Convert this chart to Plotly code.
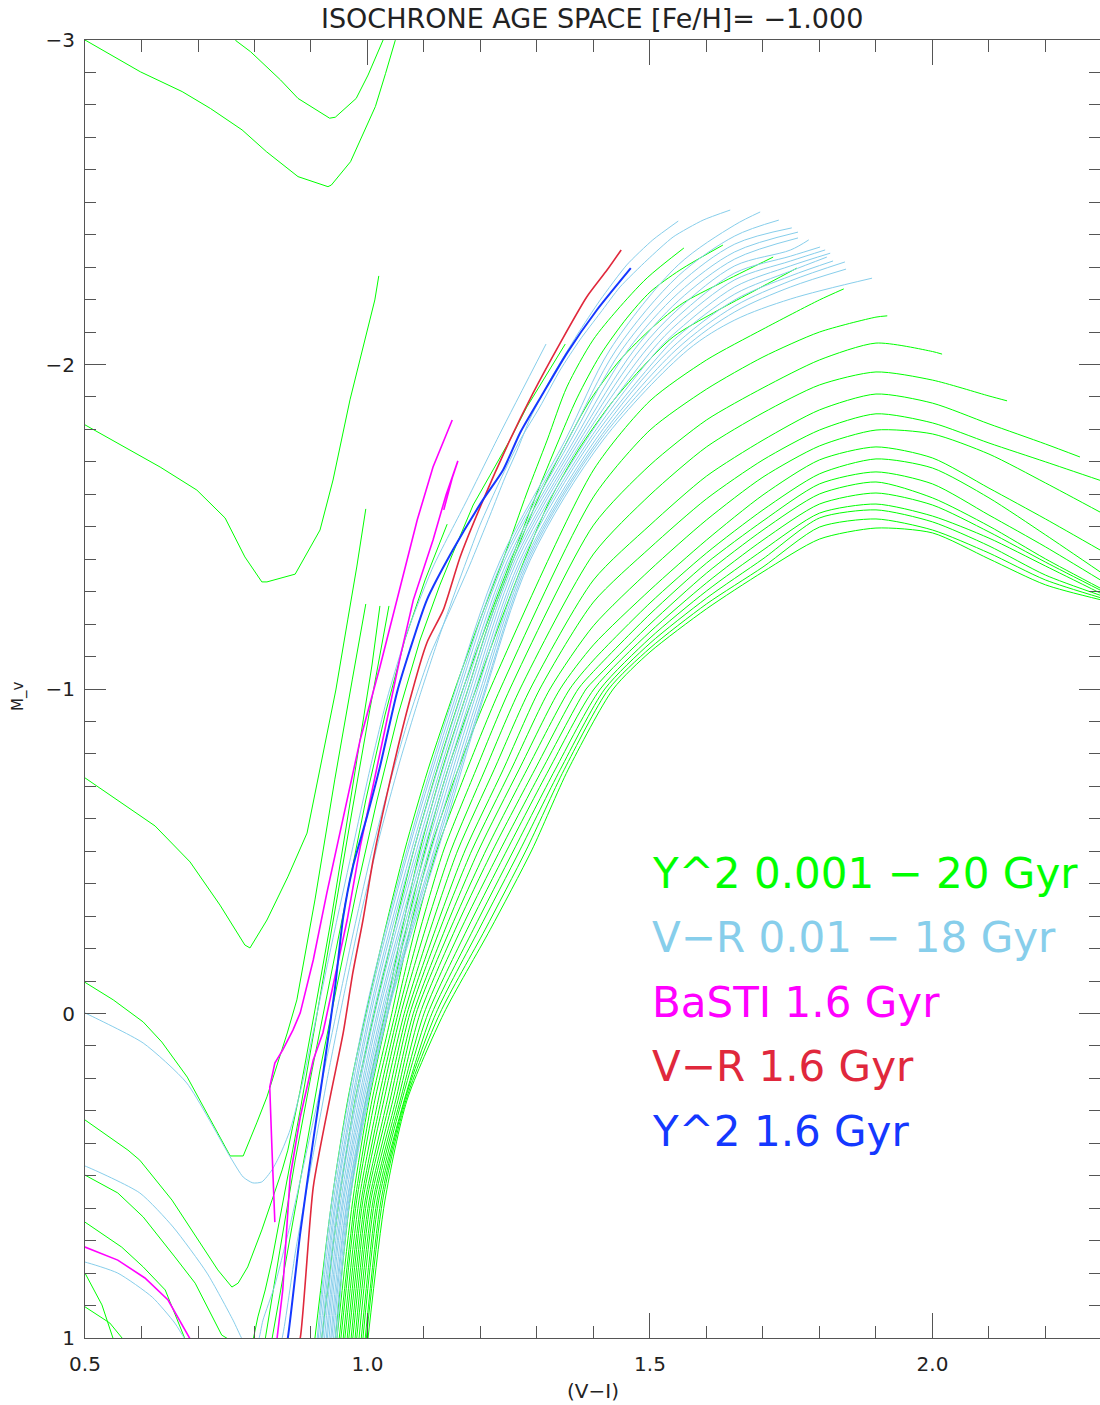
import plotly.graph_objects as go

FONT = "DejaVu Sans, sans-serif"
GREEN = "#00ff00"
SKY = "#87ceeb"
MAGENTA = "#ff00ff"
RED = "#e0283c"
BLUE = "#1438ff"

# ---------------- Y^2 (green) young isochrones: (V-I, M_V) ----------------
Y2_YOUNG_VI = [
    [0.47, 0.502, 0.598, 0.672, 0.722, 0.778, 0.821, 0.877, 0.930, 0.936, 0.970, 1.014, 1.032, 1.049, 1.06],
    [0.74, 0.767, 0.793, 0.821, 0.846, 0.877, 0.933, 0.943, 0.980, 1.001, 1.026, 1.035],
    [0.48, 0.5, 0.633, 0.698, 0.748, 0.783, 0.813, 0.822, 0.872, 0.916, 0.939, 0.969, 1.013, 1.020],
    [0.48, 0.5, 0.624, 0.686, 0.739, 0.783, 0.792, 0.822, 0.859, 0.893, 0.928, 0.944, 0.965, 0.981, 0.997],
    [0.48, 0.5, 0.550, 0.603, 0.636, 0.681, 0.757, 0.780, 0.804, 0.822, 0.858, 0.875, 0.907, 0.942, 0.973, 0.997],
    [0.48, 0.5, 0.576, 0.597, 0.654, 0.735, 0.760, 0.771, 0.788, 0.813, 0.831, 0.849, 0.859, 0.881, 0.907, 0.934, 0.960, 0.987, 1.008, 1.022],
    [0.48, 0.5, 0.558, 0.603, 0.659, 0.695, 0.742, 0.760, 0.778, 0.797, 0.806, 0.819, 0.831, 0.854, 0.881, 0.912, 0.942, 0.973, 1.004, 1.038],
    [0.48, 0.5, 0.565, 0.603, 0.642, 0.677, 0.74, 0.819, 0.845, 0.872, 0.902, 0.934, 0.965, 0.997, 1.031, 1.066, 1.102, 1.141],
    [0.48, 0.5, 0.530, 0.550, 0.70, 0.831, 0.859, 0.888, 0.916, 0.948, 0.981, 1.017, 1.054, 1.093, 1.128, 1.151, 1.187, 1.217, 1.252, 1.282, 1.318, 1.350],
    [0.48, 0.5, 0.544, 0.567, 0.58],
]
Y2_YOUNG_MV = [
    [-3.02, -2.998, -2.902, -2.841, -2.789, -2.723, -2.656, -2.579, -2.548, -2.553, -2.625, -2.795, -2.897, -2.998, -3.04],
    [-3.06, -2.998, -2.964, -2.918, -2.877, -2.820, -2.759, -2.762, -2.820, -2.892, -2.998, -3.03],
    [-1.82, -1.814, -1.684, -1.613, -1.527, -1.407, -1.330, -1.330, -1.354, -1.490, -1.644, -1.891, -2.199, -2.273],
    [-0.75, -0.726, -0.578, -0.467, -0.334, -0.211, -0.202, -0.288, -0.421, -0.556, -0.864, -0.997, -1.213, -1.376, -1.555],
    [-0.12, -0.096, -0.042, 0.026, 0.088, 0.196, 0.439, 0.439, 0.337, 0.257, 0.060, -0.042, -0.350, -0.720, -1.028, -1.262],
    [0.30, 0.328, 0.421, 0.452, 0.575, 0.790, 0.843, 0.831, 0.781, 0.667, 0.575, 0.482, 0.421, 0.236, -0.011, -0.273, -0.550, -0.843, -1.074, -1.256],
    [0.47, 0.498, 0.553, 0.627, 0.750, 0.831, 0.991, 1.01, 1.02, 1.01, 0.935, 0.852, 0.760, 0.544, 0.297, -0.011, -0.319, -0.627, -0.935, -1.256],
    [0.63, 0.643, 0.720, 0.781, 0.852, 1.003, 1.12, 1.003, 0.729, 0.452, 0.174, -0.103, -0.381, -0.658, -0.920, -1.151, -1.336, -1.508],
    [0.76, 0.800, 0.898, 1.003, 1.15, 1.003, 0.729, 0.452, 0.174, -0.103, -0.381, -0.658, -0.920, -1.151, -1.320, -1.418, -1.567, -1.659, -1.767, -1.869, -1.974, -2.063],
    [0.88, 0.904, 0.954, 1.003, 1.04],
]

# ---------------- Y^2 intermediate-age isochrones (among the V-R bundle) ----------------
Y2_MID_VI = [
    [0.907, 0.937, 0.965, 0.997, 1.031, 1.066, 1.107, 1.155, 1.199, 1.243, 1.282, 1.318, 1.353, 1.399, 1.442, 1.495, 1.560],
    [0.919, 0.950, 0.978, 1.012, 1.047, 1.082, 1.123, 1.169, 1.217, 1.261, 1.300, 1.335, 1.371, 1.412, 1.459, 1.500, 1.553, 1.629],
    [0.943, 0.969, 0.997, 1.031, 1.061, 1.093, 1.132, 1.178, 1.217, 1.261, 1.305, 1.350, 1.394, 1.447, 1.505, 1.558, 1.624, 1.718],
    [0.946, 0.974, 1.003, 1.036, 1.068, 1.102, 1.142, 1.192, 1.235, 1.279, 1.323, 1.373, 1.429, 1.482, 1.541, 1.612, 1.677, 1.760],
]
Y2_MID_MV = [
    [1.0, 0.575, 0.267, 0.0, -0.258, -0.504, -0.751, -1.0, -1.213, -1.413, -1.604, -1.767, -1.931, -2.075, -2.168, -2.267, -2.359],
    [1.0, 0.575, 0.267, 0.0, -0.258, -0.504, -0.751, -1.0, -1.228, -1.428, -1.604, -1.752, -1.897, -2.029, -2.143, -2.223, -2.291, -2.368],
    [1.0, 0.575, 0.267, 0.0, -0.258, -0.504, -0.751, -1.0, -1.213, -1.413, -1.598, -1.752, -1.890, -2.014, -2.115, -2.189, -2.250, -2.331],
    [1.0, 0.575, 0.267, 0.0, -0.258, -0.504, -0.751, -1.0, -1.206, -1.403, -1.582, -1.736, -1.875, -1.983, -2.085, -2.159, -2.220, -2.297],
]

# ---------------- Y^2 old isochrones (RGB fan) ----------------
FAN_LOWER_MV = [1.0, 0.575, 0.267, 0.0, -0.258, -0.504, -0.751, -1.0]
FAN_LOWER_VI = [
    [0.950, 0.978, 1.008, 1.043, 1.075, 1.111, 1.160, 1.217],
    [0.953, 0.981, 1.013, 1.049, 1.084, 1.123, 1.176, 1.235],
    [0.957, 0.985, 1.019, 1.054, 1.093, 1.135, 1.192, 1.252],
    [0.960, 0.989, 1.024, 1.059, 1.102, 1.148, 1.208, 1.270],
    [0.964, 0.992, 1.029, 1.065, 1.111, 1.160, 1.224, 1.288],
    [0.967, 0.996, 1.035, 1.070, 1.120, 1.173, 1.240, 1.305],
    [0.971, 0.999, 1.040, 1.075, 1.128, 1.185, 1.254, 1.323],
    [0.974, 1.003, 1.045, 1.081, 1.137, 1.197, 1.268, 1.341],
    [0.978, 1.006, 1.050, 1.086, 1.146, 1.210, 1.282, 1.358],
    [0.981, 1.010, 1.054, 1.093, 1.155, 1.222, 1.296, 1.373],
    [0.985, 1.013, 1.058, 1.100, 1.165, 1.235, 1.309, 1.387],
    [0.989, 1.017, 1.061, 1.107, 1.176, 1.247, 1.321, 1.401],
    [0.992, 1.020, 1.065, 1.114, 1.187, 1.259, 1.332, 1.412],
    [0.996, 1.024, 1.066, 1.121, 1.197, 1.270, 1.341, 1.420],
    [0.998, 1.027, 1.068, 1.128, 1.208, 1.281, 1.348, 1.427],
    [1.001, 1.031, 1.070, 1.135, 1.217, 1.291, 1.355, 1.435],
]
FAN_MV_AT_VI_1P4 = [-1.675, -1.592, -1.505, -1.416, -1.336, -1.268, -1.195, -1.136, -1.089, -1.054, -1.025,
                    None, None, None, None, None]
FAN_COLS_VI = [1.5, 1.6, 1.7, 1.8, 1.9, 2.0, 2.1, 2.2, 2.3]
FAN_UPPER_MV = [
    [-1.888, -2.014, -2.109, -2.199],
    [-1.798, -1.924, -2.023, -2.100, -2.146],
    [-1.690, -1.829, -1.928, -2.014, -2.066, -2.040],
    [-1.598, -1.746, -1.851, -1.937, -1.977, -1.952, -1.903],
    [-1.505, -1.656, -1.767, -1.860, -1.909, -1.881, -1.817, -1.755],
    [-1.435, -1.586, -1.706, -1.798, -1.848, -1.820, -1.758, -1.700, -1.641],
    [-1.367, -1.521, -1.653, -1.749, -1.798, -1.786, -1.724, -1.635, -1.542],
    [-1.305, -1.459, -1.598, -1.706, -1.746, -1.712, -1.619, -1.524, -1.425],
    [-1.265, -1.419, -1.552, -1.663, -1.709, -1.681, -1.589, -1.475, -1.357],
    [-1.231, -1.388, -1.518, -1.632, -1.669, -1.632, -1.536, -1.438, -1.333],
    [-1.200, -1.357, -1.490, -1.601, -1.638, -1.589, -1.502, -1.401, -1.308],
    [-1.176, -1.327, -1.459, -1.570, -1.604, -1.567, -1.484, -1.391, -1.302],
    [-1.157, -1.302, -1.428, -1.542, -1.570, -1.533, -1.465, -1.379, -1.293],
    [-1.141, -1.280, -1.401, -1.527, -1.552, -1.515, -1.441, -1.351, -1.287],
    [-1.126, -1.262, -1.376, -1.499, -1.524, -1.490, -1.419, -1.336, -1.280],
    [-1.114, -1.247, -1.361, -1.462, -1.496, -1.481, -1.401, -1.321, -1.274],
]
FAN_END_VI = [1.843, 1.920, 2.017, 2.132, 2.261, None, None, None, None, None, None, None, None, None, None, None]
FAN_END_MV = [-2.233, -2.150, -2.032, -1.888, -1.715, None, None, None, None, None, None, None, None, None, None, None]

# ---------------- V-R (light blue) young isochrones ----------------
VR_YOUNG_VI = [
    [0.48, 0.5, 0.603, 0.680, 0.757, 0.780, 0.797, 0.813, 0.831, 0.845, 0.863, 0.886, 0.912, 0.942, 0.973, 1.004, 1.034, 1.070, 1.116, 1.176, 1.235, 1.316],
    [0.48, 0.5, 0.597, 0.656, 0.716, 0.762, 0.778, 0.792, 0.806, 0.815, 0.836, 0.863, 0.889, 0.916, 0.946, 0.974, 1.004, 1.036, 1.072, 1.111, 1.146, 1.181, 1.217, 1.243, 1.265, 1.288, 1.328, 1.371, 1.412, 1.459, 1.505, 1.550],
    [0.48, 0.5, 0.558, 0.619, 0.659, 0.677, 0.760, 0.831, 0.849, 0.873, 0.902, 0.930, 0.960, 0.990, 1.022, 1.058, 1.093, 1.128, 1.164, 1.199, 1.235, 1.270, 1.305, 1.341, 1.376, 1.412, 1.447, 1.495, 1.541, 1.594, 1.642],
]
VR_YOUNG_MV = [
    [-0.02, -0.002, 0.091, 0.214, 0.442, 0.504, 0.522, 0.519, 0.482, 0.436, 0.359, 0.205, -0.011, -0.257, -0.504, -0.750, -0.966, -1.173, -1.376, -1.582, -1.789, -2.063],
    [0.46, 0.470, 0.553, 0.658, 0.800, 0.945, 1.003, 1.037, 1.012, 0.945, 0.837, 0.652, 0.451, 0.236, -0.011, -0.242, -0.473, -0.689, -0.904, -1.105, -1.243, -1.382, -1.536, -1.650, -1.736, -1.834, -1.967, -2.091, -2.199, -2.307, -2.384, -2.442],
    [0.76, 0.766, 0.800, 0.874, 0.954, 1.003, 1.176, 1.099, 1.0, 0.729, 0.452, 0.190, -0.072, -0.319, -0.550, -0.781, -0.982, -1.167, -1.342, -1.505, -1.644, -1.767, -1.869, -1.983, -2.076, -2.159, -2.239, -2.322, -2.393, -2.445, -2.476],
]

# ---------------- V-R (light blue) dense bundle of older isochrones ----------------
BUNDLE_MV = [1.0, 0.575, 0.0, -0.505, -0.966, -1.397, -1.767, -2.045]
BUNDLE_VI = [
    [0.911, 0.937, 0.996, 1.070, 1.150, 1.235, 1.350, 1.429],
    [0.913, 0.940, 0.999, 1.073, 1.154, 1.239, 1.355, 1.440],
    [0.916, 0.943, 1.003, 1.078, 1.158, 1.243, 1.360, 1.450],
    [0.919, 0.945, 1.006, 1.082, 1.163, 1.248, 1.366, 1.461],
    [0.921, 0.948, 1.010, 1.087, 1.167, 1.252, 1.371, 1.472],
    [0.924, 0.950, 1.013, 1.091, 1.172, 1.257, 1.376, 1.482],
    [0.927, 0.953, 1.017, 1.096, 1.176, 1.261, 1.381, 1.493],
    [0.929, 0.956, 1.020, 1.100, 1.181, 1.265, 1.387, 1.504],
    [0.932, 0.958, 1.024, 1.104, 1.185, 1.270, 1.392, 1.514],
    [0.935, 0.961, 1.027, 1.109, 1.189, 1.274, 1.397, 1.525],
    [0.937, 0.964, 1.030, 1.113, 1.194, 1.279, 1.403, 1.535],
    [0.940, 0.965, 1.033, 1.118, 1.198, 1.282, 1.408, 1.546],
    [0.943, 0.967, 1.035, 1.121, 1.202, 1.285, 1.412, 1.557],
    [0.946, 0.969, 1.036, 1.125, 1.204, 1.288, 1.417, 1.567],
]
BUNDLE_TAIL_VI = [
    [1.550, 1.650, 1.695],
    [1.550, 1.650, 1.728],
    [1.550, 1.650, 1.751],
    [1.550, 1.650, 1.762],
    [1.550, 1.650, 1.762],
    [1.550, 1.650, 1.749, 1.781],
    [1.550, 1.650, 1.749, 1.801],
    [1.550, 1.650, 1.749, 1.810],
    [1.550, 1.650, 1.749, 1.819],
    [1.550, 1.650, 1.749, 1.813],
    [1.650, 1.749, 1.824],
    [1.650, 1.749, 1.845],
    [1.650, 1.749, 1.847],
    [1.650, 1.749, 1.893],
]
BUNDLE_TAIL_MV = [
    [-2.307, -2.430, -2.470],
    [-2.273, -2.396, -2.445],
    [-2.245, -2.371, -2.421],
    [-2.220, -2.347, -2.408],
    [-2.196, -2.325, -2.390],
    [-2.171, -2.304, -2.353, -2.384],
    [-2.149, -2.282, -2.334, -2.362],
    [-2.128, -2.261, -2.319, -2.353],
    [-2.106, -2.239, -2.304, -2.343],
    [-2.088, -2.217, -2.288, -2.331],
    [-2.199, -2.273, -2.319],
    [-2.180, -2.258, -2.316],
    [-2.162, -2.239, -2.294],
    [-2.137, -2.202, -2.266],
]

# ---------------- BaSTI 1.6 Gyr (magenta) ----------------
BASTI_VI = [
    [0.48, 0.5, 0.558, 0.606, 0.647, 0.686, 0.70],
    [1.150, 1.116, 1.088, 1.052, 1.022, 0.987, 0.951, 0.928, 0.904, 0.881, 0.868, 0.850, 0.836, 0.827, 0.831, 0.836],
    [0.835, 0.840, 0.850, 0.863, 0.881, 0.904, 0.921, 0.946, 0.964, 0.987, 1.022, 1.058, 1.081, 1.116, 1.139, 1.160, 1.150, 1.135],
]
BASTI_MV = [
    [0.712, 0.720, 0.760, 0.815, 0.883, 1.003, 1.04],
    [-1.829, -1.684, -1.521, -1.274, -1.068, -0.843, -0.556, -0.371, -0.165, -0.002, 0.051, 0.112, 0.153, 0.227, 0.421, 0.643],
    [1.03, 1.0, 0.852, 0.504, 0.319, 0.143, 0.060, -0.143, -0.288, -0.513, -0.803, -1.099, -1.274, -1.459, -1.598, -1.703, -1.650, -1.552],
]

# ---------------- V-R 1.6 Gyr (red) ----------------
VR16_VI = [0.875, 0.881, 0.904, 0.934, 0.957, 0.974, 0.992, 1.010, 1.035, 1.075, 1.105, 1.134, 1.164, 1.201, 1.252, 1.293, 1.341, 1.388, 1.424, 1.449]
VR16_MV = [1.03, 1.0, 0.535, 0.257, 0.060, -0.125, -0.288, -0.473, -0.679, -0.966, -1.142, -1.243, -1.407, -1.567, -1.767, -1.912, -2.066, -2.208, -2.291, -2.353]

# ---------------- Y^2 1.6 Gyr (blue) ----------------
Y216_VI = [0.855, 0.859, 0.881, 0.904, 0.921, 0.942, 0.957, 0.974, 0.999, 1.022, 1.052, 1.075, 1.105, 1.151, 1.204, 1.240, 1.270, 1.311, 1.353, 1.406, 1.466]
Y216_MV = [1.03, 1.0, 0.676, 0.390, 0.190, -0.072, -0.297, -0.451, -0.606, -0.760, -0.988, -1.120, -1.274, -1.428, -1.582, -1.675, -1.789, -1.912, -2.035, -2.168, -2.297]

# ---------------- labels ----------------
TITLE = "ISOCHRONE AGE SPACE [Fe/H]= \u22121.000"
X_TITLE = "(V\u2212I)"
Y_TITLE = "M_v"
LEGEND_TEXT = ["Y^2 0.001 \u2212 20 Gyr", "V\u2212R 0.01 \u2212 18 Gyr", "BaSTI 1.6 Gyr", "V\u2212R 1.6 Gyr", "Y^2 1.6 Gyr"]
LEGEND_COLOR = [GREEN, SKY, MAGENTA, RED, BLUE]
LEGEND_MV = [-0.432, -0.235, -0.035, 0.163, 0.363]

fig = go.Figure()


def add(x, y, color, width, smooth=None):
    line = dict(color=color, width=width)
    if smooth:
        line["shape"] = "spline"
        line["smoothing"] = smooth
    fig.add_trace(go.Scatter(x=x, y=y, mode="lines", line=line,
                             hoverinfo="skip", showlegend=False))


# green families
for xs, ys in zip(Y2_YOUNG_VI, Y2_YOUNG_MV):
    add(xs, ys, GREEN, 1)
for xs, ys in zip(Y2_MID_VI, Y2_MID_MV):
    add(xs, ys, GREEN, 1, 0.8)
for k in range(len(FAN_LOWER_VI)):
    xs = list(FAN_LOWER_VI[k])
    ys = list(FAN_LOWER_MV)
    if FAN_MV_AT_VI_1P4[k] is not None:
        xs.append(1.4)
        ys.append(FAN_MV_AT_VI_1P4[k])
    up = FAN_UPPER_MV[k]
    xs += FAN_COLS_VI[:len(up)]
    ys += up
    if FAN_END_VI[k] is not None:
        xs.append(FAN_END_VI[k])
        ys.append(FAN_END_MV[k])
    add(xs, ys, GREEN, 1, 0.7)

# light blue families
for xs, ys in zip(VR_YOUNG_VI, VR_YOUNG_MV):
    add(xs, ys, SKY, 1, 0.6)
for k in range(len(BUNDLE_VI)):
    add(list(BUNDLE_VI[k]) + BUNDLE_TAIL_VI[k], list(BUNDLE_MV) + BUNDLE_TAIL_MV[k], SKY, 1, 0.9)

# highlighted 1.6 Gyr isochrones
for xs, ys in zip(BASTI_VI, BASTI_MV):
    add(xs, ys, MAGENTA, 1.6)
add(VR16_VI, VR16_MV, RED, 1.6, 0.6)
add(Y216_VI, Y216_MV, BLUE, 2, 0.6)

AX = "#555555"
fig.update_layout(
    width=1100, height=1405,
    margin=dict(l=85, r=0, t=40, b=67),
    paper_bgcolor="white", plot_bgcolor="white",
    showlegend=False,
)
fig.update_xaxes(
    range=[0.5, 2.2965], tick0=0.5, dtick=0.5, tickformat=".1f",
    ticks="inside", ticklen=25, tickwidth=1, tickcolor=AX,
    showline=True, linecolor=AX, linewidth=1, mirror="allticks",
    showgrid=False, zeroline=False,
    minor=dict(dtick=0.1, tick0=0.5, ticks="inside", ticklen=12, tickcolor=AX, showgrid=False),
    tickfont=dict(family=FONT, size=20, color="#222222"), ticklabelstandoff=8,
)
fig.update_yaxes(
    range=[1, -3], tick0=0, dtick=1,
    ticks="inside", ticklen=21, tickwidth=1, tickcolor=AX,
    showline=True, linecolor=AX, linewidth=1, mirror="allticks",
    showgrid=False, zeroline=False,
    minor=dict(dtick=0.1, ticks="inside", ticklen=11, tickcolor=AX, showgrid=False),
    tickfont=dict(family=FONT, size=20, color="#222222"), ticklabelstandoff=5,
)

fig.add_annotation(text=TITLE, xref="paper", yref="paper", x=0.4995, y=1.0162,
                   xanchor="center", yanchor="middle", showarrow=False,
                   font=dict(family=FONT, size=27, color="#222222"))
fig.add_annotation(text=X_TITLE, xref="paper", yref="paper", x=0.5005, y=-0.0408,
                   xanchor="center", yanchor="middle", showarrow=False,
                   font=dict(family=FONT, size=20, color="#222222"))
fig.add_annotation(text=Y_TITLE, xref="paper", yref="paper", x=-0.066, y=0.4938,
                   xanchor="center", yanchor="middle", showarrow=False, textangle=-90,
                   font=dict(family=FONT, size=15, color="#222222"))
for txt, col, mv in zip(LEGEND_TEXT, LEGEND_COLOR, LEGEND_MV):
    fig.add_annotation(text=txt, xref="x", yref="y", x=1.5, y=mv,
                       xanchor="left", yanchor="middle", showarrow=False,
                       font=dict(family=FONT, size=42, color=col))

fig.write_html("out.html")
